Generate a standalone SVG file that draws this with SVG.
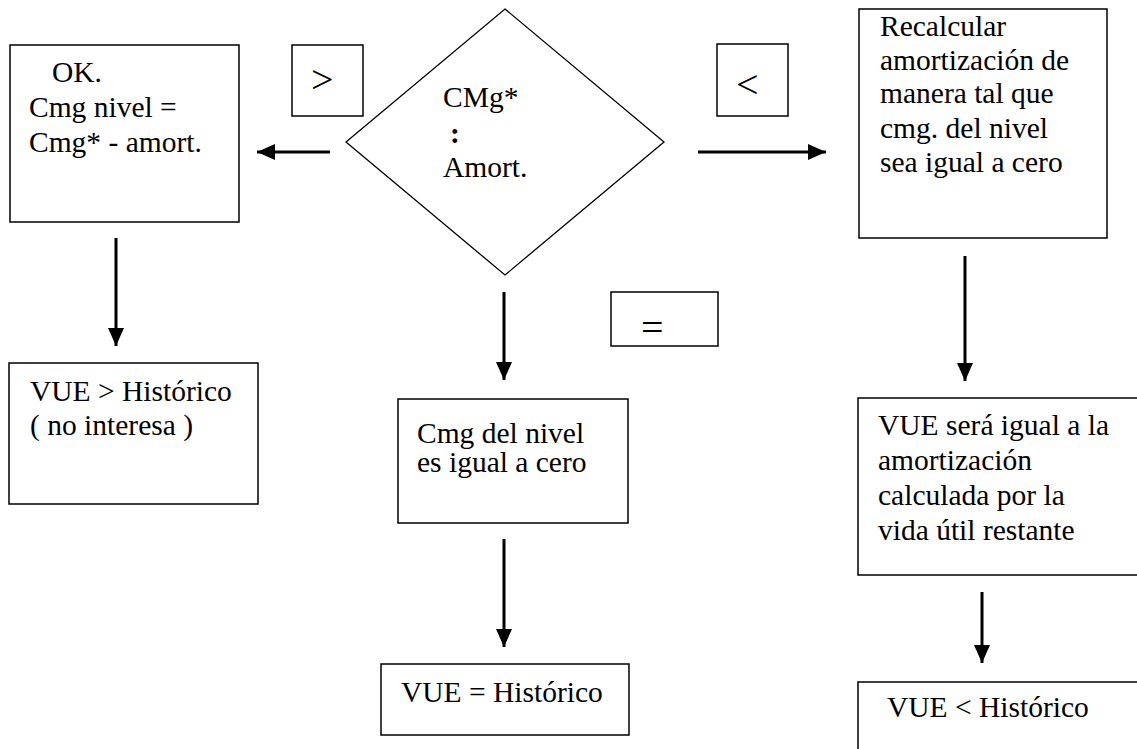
<svg xmlns="http://www.w3.org/2000/svg" width="1137" height="749" viewBox="0 0 1137 749">
<style>
.box{fill:#fff;stroke:#000;stroke-width:1.5}
text{font-family:'Liberation Serif','DejaVu Serif','Times New Roman',Times,serif;fill:#000}
.t{font-size:29.5px}
.sym{font-size:40px}
.conn{stroke:#000;stroke-width:3;fill:none;marker-end:url(#ah)}
</style>
<defs>
<marker id="ah" markerUnits="userSpaceOnUse" markerWidth="20" markerHeight="18" viewBox="0 0 20 18" refX="18" refY="9" orient="auto">
<path d="M0,1 L18,9 L0,17 Z" fill="#000"/>
</marker>
</defs>
<rect width="1137" height="749" fill="#fff"/>
<g id="connectors">
<line class="conn" x1="330" y1="152" x2="257" y2="152"/>
<line class="conn" x1="698" y1="152" x2="826" y2="152"/>
<line class="conn" x1="116" y1="238" x2="116" y2="346"/>
<line class="conn" x1="504" y1="292" x2="504" y2="380"/>
<line class="conn" x1="504" y1="539" x2="504" y2="647"/>
<line class="conn" x1="965" y1="256" x2="965" y2="381"/>
<line class="conn" x1="982" y1="592" x2="982" y2="663"/>
</g>
<g id="decision">
<polygon class="box" points="505,9 664,142 505,275 346,142" style="stroke-width:1.3"/>
<text class="t" x="443" y="107">CMg*</text>
<text class="t" x="450" y="143" font-weight="bold">:</text>
<text class="t" x="443" y="177">Amort.</text>
</g>
<g id="label-gt">
<rect class="box" x="292" y="45" width="71" height="71"/>
<text class="sym" x="311" y="93">&gt;</text>
</g>
<g id="label-lt">
<rect class="box" x="717" y="44" width="71" height="72"/>
<text class="sym" x="736" y="98">&lt;</text>
</g>
<g id="label-eq">
<rect class="box" x="611" y="292" width="107" height="54"/>
<text class="sym" x="641" y="341">=</text>
</g>
<g id="ok-box">
<rect class="box" x="10" y="45" width="229" height="177"/>
<text class="t" x="52" y="82">OK.</text>
<text class="t" x="29" y="117">Cmg nivel =</text>
<text class="t" x="29" y="152">Cmg* - amort.</text>
</g>
<g id="recalc-box">
<rect class="box" x="859" y="9" width="248" height="229"/>
<text class="t" x="880" y="36">Recalcular</text>
<text class="t" x="880" y="70">amortización de</text>
<text class="t" x="880" y="103">manera tal que</text>
<text class="t" x="880" y="138">cmg. del nivel</text>
<text class="t" x="880" y="172">sea igual a cero</text>
</g>
<g id="vue-gt-box">
<rect class="box" x="9" y="363" width="249" height="141"/>
<text class="t" x="30" y="401">VUE &gt; Histórico</text>
<text class="t" x="30" y="435">( no interesa )</text>
</g>
<g id="cmg-cero-box">
<rect class="box" x="398" y="399" width="230" height="124"/>
<text class="t" x="417" y="443">Cmg del nivel</text>
<text class="t" x="417" y="472">es igual a cero</text>
</g>
<g id="vue-eq-box">
<rect class="box" x="381" y="664" width="248" height="71"/>
<text class="t" x="401" y="702">VUE = Histórico</text>
</g>
<g id="vue-sera-box">
<rect class="box" x="858" y="398" width="300" height="177"/>
<text class="t" x="878" y="435">VUE será igual a la</text>
<text class="t" x="878" y="470">amortización</text>
<text class="t" x="878" y="505">calculada por la</text>
<text class="t" x="878" y="540">vida útil restante</text>
</g>
<g id="vue-lt-box">
<rect class="box" x="858" y="682" width="300" height="100"/>
<text class="t" x="887" y="717">VUE &lt; Histórico</text>
</g>
</svg>
